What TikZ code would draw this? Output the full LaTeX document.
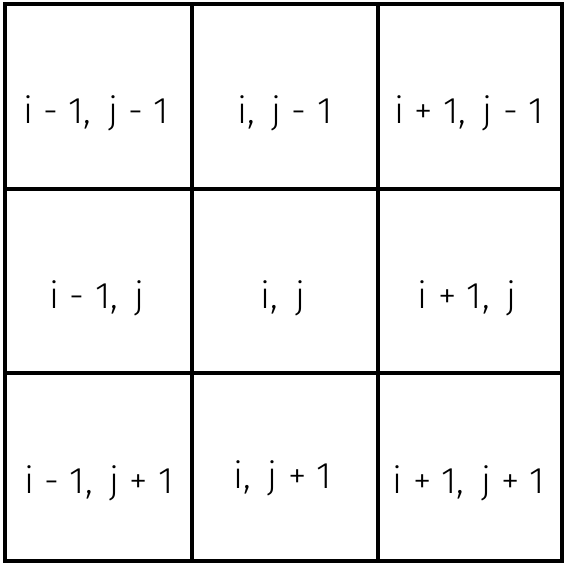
\documentclass[tikz,border=0pt]{standalone}
\usepackage{fontspec}
\setmainfont{Fira Sans Light}
\begin{document}
\begin{tikzpicture}[x=1pt,y=-1pt,
  gridline/.style={line width=3.2pt,line cap=round},
  lbl/.style={font=\fontsize{37}{40}\selectfont,inner sep=0pt}]
\useasboundingbox (0,0) rectangle (569,567);
\draw[gridline] (5,4) rectangle (562,561);
\draw[gridline] (192,4) -- (192,561);
\draw[gridline] (378,4) -- (378,561);
\draw[gridline] (5,189) -- (562,189);
\draw[gridline] (5,373) -- (562,373);
% labels
\node[lbl] (a11) at (96,113) {i - 1,\, j - 1};
\node[lbl] (a12) at (285,113) {i,\, j - 1};
\node[lbl] (a13) at (469,113) {i + 1,\, j - 1};
\node[lbl] (a21) at (97,298) {i - 1,\, j};
\node[lbl] (a22) at (283,298) {i,\, j};
\node[lbl] (a23) at (467,298) {i + 1,\, j};
\node[lbl] (a31) at (99,483) {i - 1,\, j + 1};
\node[lbl] (a32) at (283,478) {i,\, j + 1};
\node[lbl] (a33) at (469,483) {i + 1,\, j + 1};
\end{tikzpicture}
\end{document}
